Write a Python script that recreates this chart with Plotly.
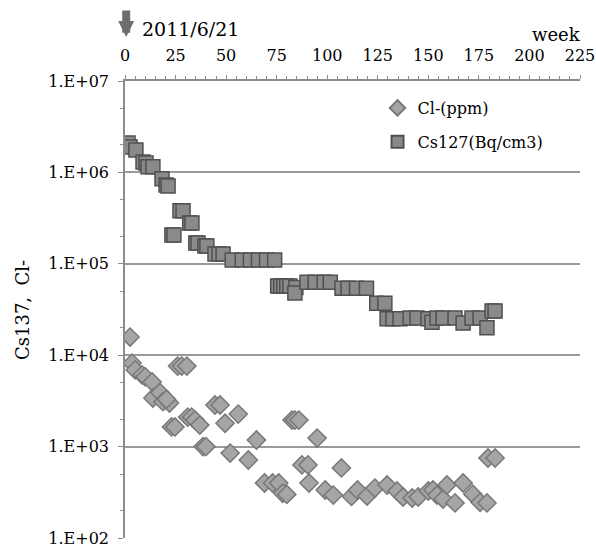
import plotly.graph_objects as go

cl_weeks = [2.5, 3.5, 5, 8.4, 10, 13.4, 13.8, 17.3, 18.8, 22, 20.5, 23, 24.7, 26, 28, 30.6, 31, 33, 34.6, 37,
            38.6, 40, 44.5, 47, 49.5, 52, 56, 61, 65, 69, 73, 76, 78, 80, 82.6, 84, 86, 87.5, 90.5, 91,
            95, 99, 103, 107, 112, 115, 119.7, 123.6, 129.6, 134.5, 137.5, 142, 145, 150, 152.3, 154.3,
            157.3, 159.2, 163.2, 167.2, 172, 175.6, 179, 179.5, 183]
cl_values = [15800, 8200, 6900, 6100, 5800, 5100, 3400, 3900, 3100, 3000, 3300, 1640, 1640, 7600, 7600, 7600,
             2100, 2100, 1950, 1720, 1000, 1000, 2850, 2850, 1800, 850, 2270, 713, 1180, 400, 400, 400,
             309, 300, 1950, 1950, 1950, 630, 630, 400, 1240, 335, 295, 584, 285, 335, 288, 352, 380, 327,
             281, 274, 281, 327, 335, 295, 267, 380, 242, 400, 302, 246, 242, 750, 750]

cs_weeks = [1.5, 2.5, 5.4, 8.9, 10.4, 11.4, 13.8, 18.3, 20.3, 21.3, 27.2, 28.7, 32, 33.1, 23.2, 24.2,
            35, 36.1, 39.5, 40.5, 44.5, 46.5, 48.5, 53, 58, 62, 66, 70, 74,
            75.5, 77, 78.5, 80, 81.5, 84.5, 84, 90, 94, 98.5, 101.5, 107.3, 110.3, 114.5, 119.4,
            124.5, 128.5, 129.6, 132.5, 136, 141, 144.4, 149.8, 151.8, 154.3, 157.3, 163.2, 167.2,
            171.6, 175.6, 179, 181.5, 183]
cs_values = [2.1e6, 1.9e6, 1.76e6, 1.3e6, 1.27e6, 1.15e6, 1.15e6, 8.5e5, 7.3e5, 7.1e5, 3.8e5, 3.8e5,
             2.8e5, 2.8e5, 2.07e5, 2.07e5, 1.69e5, 1.69e5, 1.57e5, 1.57e5, 1.28e5, 1.28e5, 1.28e5,
             1.1e5, 1.1e5, 1.1e5, 1.1e5, 1.1e5, 1.1e5,
             5.7e4, 5.7e4, 5.7e4, 5.7e4, 5.7e4, 5.5e4, 4.8e4, 6.3e4, 6.3e4, 6.3e4, 6.3e4, 5.4e4, 5.4e4,
             5.4e4, 5.4e4, 3.7e4, 3.7e4, 2.5e4, 2.5e4, 2.5e4, 2.55e4, 2.55e4, 2.5e4, 2.3e4, 2.55e4,
             2.55e4, 2.55e4, 2.25e4, 2.55e4, 2.55e4, 2.0e4, 3.04e4, 3.04e4]

y_tickvals = [1e2, 1e3, 1e4, 1e5, 1e6, 1e7]
y_ticktext = ["1.E+02", "1.E+03", "1.E+04", "1.E+05", "1.E+06", "1.E+07"]
x_tickvals = [0, 25, 50, 75, 100, 125, 150, 175, 200, 225]

FONT = "DejaVu Serif"

fig = go.Figure()
fig.add_trace(go.Scatter(
    x=cl_weeks, y=cl_values, mode="markers", name="Cl-(ppm)", legendgroup="a",
    marker=dict(symbol="diamond", size=14, color="#a5a5a5", line=dict(color="#787878", width=1.5)),
))
fig.add_trace(go.Scatter(
    x=cs_weeks, y=cs_values, mode="markers", name="Cs127(Bq/cm3)", legendgroup="b",
    marker=dict(symbol="square", size=14, color="#8a8a8a", line=dict(color="#505050", width=1.5)),
))

fig.update_layout(
    width=596, height=547,
    margin=dict(l=125, r=16, t=81, b=9, autoexpand=False),
    paper_bgcolor="white", plot_bgcolor="white",
    font=dict(family=FONT, size=16, color="black"),
    showlegend=True,
    legend=dict(x=0.555, y=1 - (91 - 81) / 457, xanchor="left", yanchor="top", bgcolor="rgba(0,0,0,0)",
                font=dict(family=FONT, size=16), tracegroupgap=10, itemsizing="constant",
                traceorder="grouped"),
    xaxis=dict(side="top", range=[0, 225], tickvals=x_tickvals, showgrid=False, zeroline=False,
               automargin=False, ticklabeloverflow="allow",
               showline=True, linecolor="#8c8c8c", linewidth=1.5, ticks="outside", ticklen=4,
               tickcolor="#8c8c8c", ticklabelstandoff=8,
               minor=dict(dtick=5, ticks="outside", ticklen=3, tickcolor="#8c8c8c", showgrid=False),
               tickfont=dict(family=FONT, size=16)),
    yaxis=dict(type="log", range=[2, 7], tickvals=y_tickvals, ticktext=y_ticktext,
               automargin=False, ticklabeloverflow="allow",
               showgrid=True, gridcolor="#9a9a9a", gridwidth=1.5, zeroline=False,
               showline=True, linecolor="#8c8c8c", linewidth=1.5, ticks="outside", ticklen=5,
               tickcolor="#8c8c8c", ticklabelstandoff=6,
               minor=dict(ticks="outside", ticklen=3, tickcolor="#8c8c8c", showgrid=False),
               tickfont=dict(family=FONT, size=16)),
    annotations=[
        dict(x=0.6, xref="x", y=1 + (81 - 37) / 457, yref="paper", text="", showarrow=True, ax=0, ay=-28,
             arrowhead=2, arrowwidth=8, arrowsize=0.4, arrowcolor="#6e6e6e"),
        dict(x=(140 - 125) / 455, xref="paper", y=1 + (81 - 29) / 457, yref="paper", text="2011/6/21",
             showarrow=False, xanchor="left", yanchor="middle", font=dict(family=FONT, size=19)),
        dict(x=1.007, xref="paper", y=1 + (81 - 34) / 457, yref="paper", text="week",
             showarrow=False, xanchor="right", yanchor="middle", font=dict(family=FONT, size=18)),
        dict(x=(22 - 125) / 455, xref="paper", y=1 - (310 - 81) / 457, yref="paper", text="Cs137,  Cl-",
             showarrow=False, textangle=-90, xanchor="center", yanchor="middle",
             font=dict(family=FONT, size=18)),
    ],
)

fig.write_html("out.html")
